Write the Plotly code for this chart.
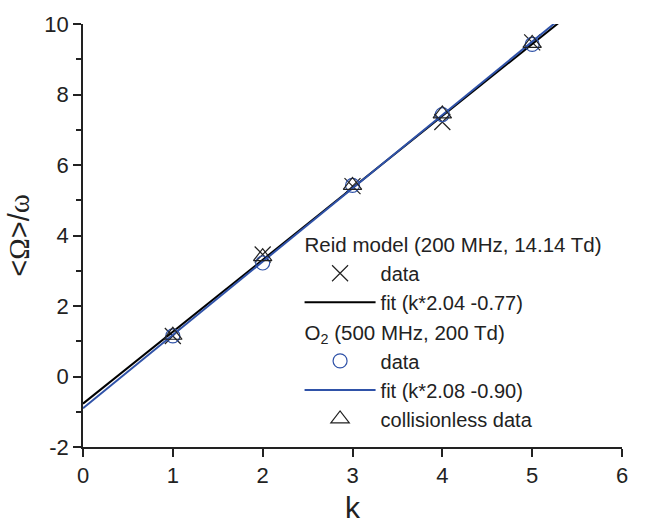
import plotly.graph_objects as go

# ---- data ----
k_vals = [1, 2, 3, 4, 5]
reid_data = [1.15, 3.46, 5.40, 7.22, 9.48]
o2_data = [1.15, 3.22, 5.42, 7.43, 9.42]
collisionless_data = [1.17, 3.40, 5.42, 7.45, 9.45]

fit_k = [0, 6]
reid_slope, reid_icpt = 2.04, -0.77
o2_slope, o2_icpt = 2.08, -0.90
reid_fit = [reid_slope * k + reid_icpt for k in fit_k]
o2_fit = [o2_slope * k + o2_icpt for k in fit_k]

x_ticks = [0, 1, 2, 3, 4, 5, 6]
y_ticks = [-2, 0, 2, 4, 6, 8, 10]
y_tick_text = ["-2", "0", "2", "4", "6", "8", "10"]

BLUE = "#2f52a8"
INK = "#222222"
FONT = "Liberation Sans, Arial, sans-serif"

fig = go.Figure()

fig.add_trace(go.Scatter(
    x=k_vals, y=reid_data, mode="markers", name="data",
    legendgroup="reid", legendgrouptitle_text="Reid model (200 MHz, 14.14 Td)",
    marker=dict(symbol="x-thin-open", size=16, color=INK,
                line=dict(color=INK, width=1.2)),
))
fig.add_trace(go.Scatter(
    x=fit_k, y=reid_fit, mode="lines", name="fit (k*2.04 -0.77)",
    legendgroup="reid", line=dict(color="black", width=2),
))
fig.add_trace(go.Scatter(
    x=k_vals, y=o2_data, mode="markers", name="data",
    legendgroup="o2", legendgrouptitle_text="O<sub>2</sub> (500 MHz, 200 Td)",
    marker=dict(symbol="circle-open", size=14, color=BLUE,
                line=dict(color=BLUE, width=1.2)),
))
fig.add_trace(go.Scatter(
    x=fit_k, y=o2_fit, mode="lines", name="fit (k*2.08 -0.90)",
    legendgroup="o2", line=dict(color=BLUE, width=2),
))
fig.add_trace(go.Scatter(
    x=k_vals, y=collisionless_data, mode="markers", name="collisionless data",
    legendgroup="o2",
    marker=dict(symbol="triangle-up-open", size=16, color=INK,
                line=dict(color=INK, width=1.2)),
))

fig.update_layout(
    width=651, height=531,
    margin=dict(l=83, r=29, t=15, b=79),
    paper_bgcolor="white", plot_bgcolor="white",
    font=dict(family=FONT, size=21, color=INK),
    showlegend=True,
    legend=dict(
        x=0.4018, y=0.527, xanchor="left", yanchor="top",
        bgcolor="rgba(0,0,0,0)", borderwidth=0,
        tracegroupgap=0, font=dict(size=20),
        grouptitlefont=dict(size=20.5),
        itemwidth=71,
    ),
)

fig.update_xaxes(
    range=[0, 6], tickvals=x_ticks, ticks="outside", ticklen=8, tickwidth=1.5,
    tickcolor=INK, showline=True, linecolor=INK, linewidth=1.5,
    showgrid=False, zeroline=False, tickfont=dict(size=22),
    title=dict(text="k", font=dict(size=30), standoff=10),
)
fig.update_yaxes(
    range=[-2, 10], tickvals=y_ticks, ticktext=y_tick_text,
    ticks="outside", ticklen=8, tickwidth=1.5, ticklabeloverflow="allow",
    tickcolor=INK, showline=True, linecolor=INK, linewidth=1.5,
    showgrid=False, zeroline=False, tickfont=dict(size=22),
    minor=dict(dtick=1, ticks="outside", ticklen=5, tickwidth=1.5, tickcolor=INK),
    title=dict(
        text="&lt;<span style=\"font-family:'Liberation Serif',serif\">Ω</span>&gt;/<span style=\"font-family:'Liberation Serif',serif\">ω</span>",
        font=dict(size=29), standoff=6,
    ),
)

fig.write_html("out.html")
